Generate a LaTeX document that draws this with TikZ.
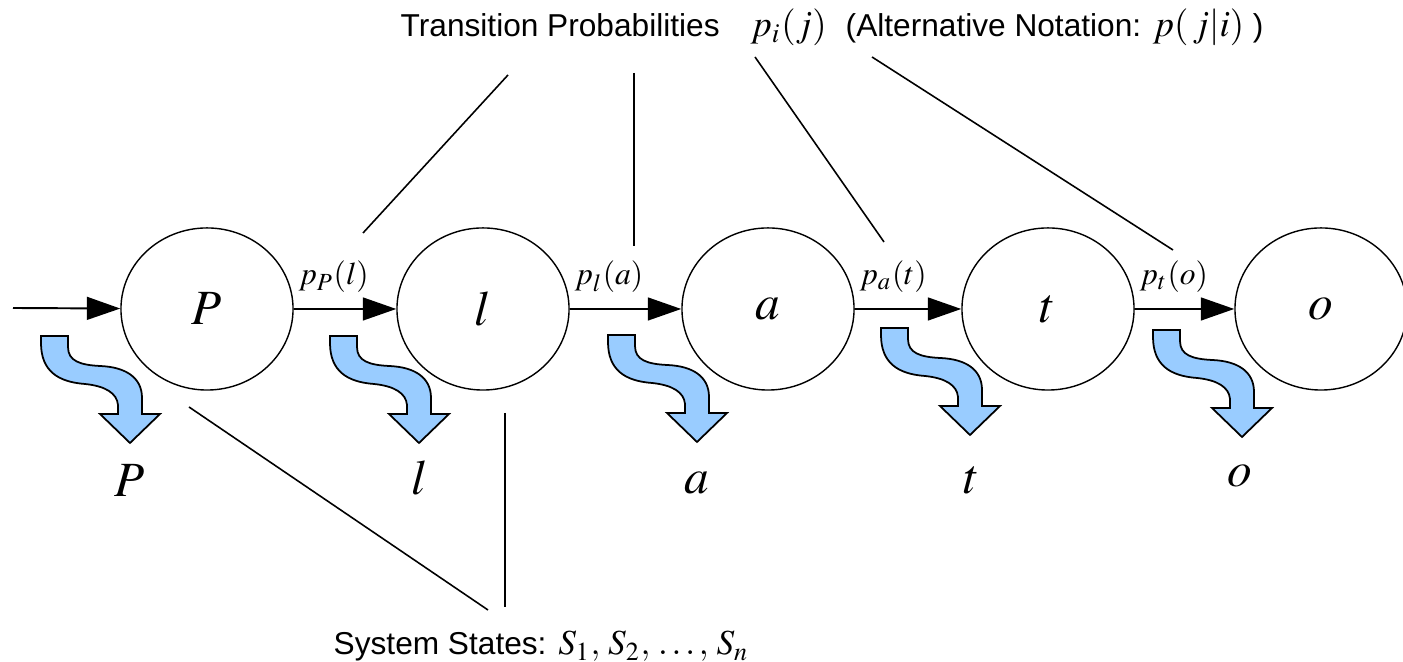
\documentclass[tikz,border=0pt]{standalone}
\usepackage{mathptmx}
\usepackage[no-math]{fontspec}
\setmainfont{Liberation Sans}
\usetikzlibrary{arrows.meta,shapes.geometric}
\definecolor{outblue}{RGB}{153,204,255}
\tikzset{
 state/.style={draw,ellipse,minimum width=1.72cm,minimum height=1.62cm,inner sep=0pt,line width=0.4pt,font=\fontsize{14}{16}\selectfont},
 trans/.style={-{Triangle[length=9.5pt,width=6.5pt]},line width=0.55pt},
 plab/.style={anchor=base west,inner sep=0pt,xshift=0.04cm,yshift=0.24cm,font=\fontsize{9}{11}\selectfont},
 emit/.style={draw=black,fill=outblue,line width=0.5pt,line join=miter},
 leader/.style={line width=0.45pt},
 txt/.style={anchor=base west,inner sep=0pt,font=\fontsize{9}{11}\selectfont}
}
\begin{document}
\begin{tikzpicture}[x=0.01cm,y=-0.01cm]
\useasboundingbox (0,0) rectangle (1403,662);
% states
\foreach \n/\x in {P/207,l/483,a/768,t/1048,o/1321}
 \node[state] (s\n) at (\x,309) {$\n$};
% transitions
\coordinate (in) at (13,308);
\draw[trans] (in) -- (sP);
\foreach \a/\b/\lab in {P/l/{p_P(l)},l/a/{p_l(a)},a/t/{p_a(t)},t/o/{p_t(o)}}
 \draw[trans] (s\a) -- (s\b) node[plab,pos=0] (q\b) {$\lab$};
% emitted symbols
\foreach \x/\y in {130/443,419/443,697/442,970/435,1242/437}
 \draw[emit,shift={(\x,\y)}] (-89,-107) -- (-62,-107) -- (-62,-96)
  .. controls (-62,-82) and (-50,-78) .. (-30,-77)
  .. controls (-5,-76) and (12,-66) .. (12,-45) -- (12,-29) -- (30,-29)
  -- (0,0) -- (-30,-29) -- (-12,-29) -- (-12,-38)
  .. controls (-13,-50) and (-25,-57) .. (-45,-59)
  .. controls (-72,-61) and (-89,-72) .. (-89,-100) -- cycle;
\foreach \n/\x/\y in {P/130/497,l/420/495,a/697/494,t/972/494,o/1240/487}
 \node[anchor=base,inner sep=0pt,font=\fontsize{14}{16}\selectfont] (e\n) at (\x,\y) {$\n$};
% annotations
\node[txt] (tp) at (400,37) {Transition Probabilities};
\node[txt] (pij) at (750,37) {\fontsize{10.5}{12}\selectfont$p_i(j)$};
\node[txt] (alt) at (845,37) {(Alternative Notation: {\fontsize{10.5}{12}\selectfont$p(\,j|i)$}\ )};
\node[txt] (ss) at (333,655) {System States: {\fontsize{10}{12}\selectfont$S_1,\,S_2,\,\ldots,\,S_n$}};
\coordinate (t1) at (508,75); \coordinate (u1) at (363,233);
\coordinate (t2) at (634,73); \coordinate (u2) at (634,246);
\coordinate (t3) at (755,57); \coordinate (u3) at (884,242);
\coordinate (t4) at (872,57); \coordinate (u4) at (1173,250);
\foreach \i in {1,...,4}
 \draw[leader] (t\i) -- (u\i);
\coordinate (b1) at (189,407); \coordinate (c1) at (488,610);
\coordinate (b2) at (505,413); \coordinate (c2) at (505,607);
\draw[leader] (b1) -- (c1);
\draw[leader] (b2) -- (c2);
\end{tikzpicture}
\end{document}
